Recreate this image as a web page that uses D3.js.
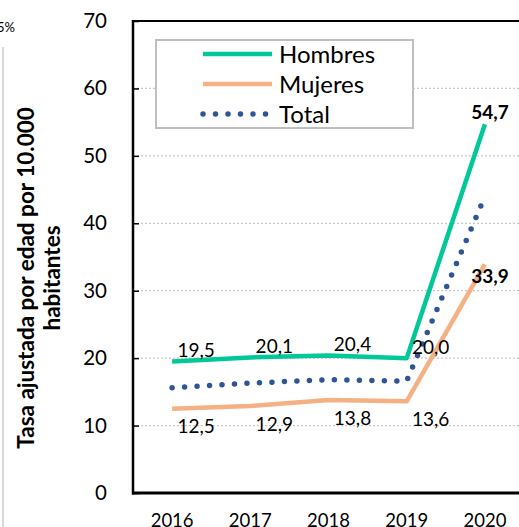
<!DOCTYPE html>
<html>
<head>
<meta charset="utf-8">
<script src="https://cdn.jsdelivr.net/npm/d3@7"></script>
<style>
  html, body { margin: 0; padding: 0; background: #fff; }
  svg { display: block; font-family: Lato, "Open Sans", sans-serif; }
</style>
</head>
<body>
<svg id="chart" width="519" height="527"></svg>
<script>
// ---- data ----
const years = ["2016", "2017", "2018", "2019", "2020"];
const hombres = [19.5, 20.1, 20.4, 20.0, 54.7];
const mujeres = [12.5, 12.9, 13.8, 13.6, 33.9];
const total = [15.6, 16.3, 16.8, 16.6, 44.0];
const hombresLabels = ["19,5", "20,1", "20,4", "20,0", "54,7"];
const mujeresLabels = ["12,5", "12,9", "13,8", "13,6", "33,9"];
const yTicks = [0, 10, 20, 30, 40, 50, 60, 70];
const seriesNames = ["Hombres", "Mujeres", "Total"];
const yTitle = ["Tasa ajustada por edad por 10.000", "habitantes"];

// ---- styles ----
const cGreen = "#00C896", cOrange = "#F4B183", cBlue = "#2F5597";

const svg = d3.select("#chart");
const pLeft = 133, pRight = 524, pTop = 21, pBottom = 493;

const x = d3.scaleBand().domain(years).range([pLeft, pRight]).padding(0);
const cx = d => x(d) + x.bandwidth() / 2;
const y = d3.scaleLinear().domain([0, 70]).range([pBottom, pTop]);

// stray fragment at the top left
svg.append("line").attr("x1", 3).attr("x2", 3).attr("y1", 47).attr("y2", 527)
  .attr("stroke", "#d9d9d9").attr("stroke-width", 2);
svg.append("text").attr("x", 15).attr("y", 32).attr("text-anchor", "end")
  .attr("font-size", 13).attr("fill", "#000").text("5%");

// gridlines
svg.append("g").selectAll("line").data(yTicks.filter(t => t > 0 && t < 70)).join("line")
  .attr("x1", pLeft).attr("x2", pRight)
  .attr("y1", d => y(d)).attr("y2", d => y(d))
  .attr("stroke", "#c8c8c8").attr("stroke-width", 1.2).attr("stroke-dasharray", "2 2");

// y axis (ticks inward)
const yAxis = d3.axisLeft(y).tickValues(yTicks).tickSize(-6).tickPadding(26).tickFormat(d3.format("d"));
const gy = svg.append("g").attr("transform", `translate(${pLeft},0)`).call(yAxis);
gy.select(".domain").remove();
gy.selectAll(".tick line").attr("stroke", "#000").attr("stroke-width", 1.5);
gy.selectAll(".tick text").attr("font-size", 20.5).attr("font-family", "Lato").attr("fill", "#000");

// x axis
const xAxis = d3.axisBottom(x).tickSize(0).tickPadding(0);
const gx = svg.append("g").attr("transform", `translate(0,${pBottom})`).call(xAxis);
gx.select(".domain").remove();
gx.selectAll(".tick text").attr("font-size", 18.5).attr("font-family", "Lato").attr("fill", "#000")
  .attr("dy", null).attr("y", 34);

// frame lines
svg.append("line").attr("x1", pLeft).attr("x2", pRight).attr("y1", pTop).attr("y2", pTop)
  .attr("stroke", "#000").attr("stroke-width", 2);
svg.append("line").attr("x1", pLeft).attr("x2", pLeft).attr("y1", pTop - 1).attr("y2", pBottom + 1.5)
  .attr("stroke", "#000").attr("stroke-width", 2.5);
svg.append("line").attr("x1", pLeft - 1).attr("x2", pRight).attr("y1", pBottom).attr("y2", pBottom)
  .attr("stroke", "#000").attr("stroke-width", 3);

// y title
const tg = svg.append("g").attr("transform", "translate(0,278) rotate(-90)");
tg.selectAll("text").data(yTitle).join("text")
  .attr("x", 0).attr("y", (d, i) => 34 + i * 26)
  .attr("text-anchor", "middle").attr("font-weight", "bold").attr("font-size", 22.5)
  .attr("fill", "#000").text(d => d);

// lines
const line = d3.line().x((d, i) => cx(years[i])).y(d => y(d));
svg.append("path").datum(mujeres).attr("d", line).attr("fill", "none")
  .attr("stroke", cOrange).attr("stroke-width", 4.5).attr("stroke-linejoin", "round");
svg.append("path").datum(hombres).attr("d", line).attr("fill", "none")
  .attr("stroke", cGreen).attr("stroke-width", 4.5).attr("stroke-linejoin", "round");
svg.append("path").datum(total).attr("d", line).attr("fill", "none")
  .attr("stroke", cBlue).attr("stroke-width", 5.5).attr("stroke-linecap", "round")
  .attr("stroke-dasharray", "0 12.5");

// labels
const lab = svg.append("g").attr("font-size", 19).attr("fill", "#000").attr("text-anchor", "middle");
lab.selectAll("text.h").data(hombres).join("text").attr("class", "h")
  .attr("x", (d, i) => cx(years[i]) + (i === 4 ? 5 : 24))
  .attr("y", (d, i) => y(d) - (i === 4 ? 12 : 11)).attr("dy", "0.35em")
  .attr("font-weight", (d, i) => i === 4 ? "bold" : null)
  .text((d, i) => hombresLabels[i]);
lab.selectAll("text.m").data(mujeres).join("text").attr("class", "m")
  .attr("x", (d, i) => cx(years[i]) + (i === 4 ? 5 : 24))
  .attr("y", (d, i) => y(d) + (i === 4 ? 12 : 18)).attr("dy", "0.35em")
  .attr("font-weight", (d, i) => i === 4 ? "bold" : null)
  .text((d, i) => mujeresLabels[i]);

// legend
const lg = svg.append("g");
lg.append("rect").attr("x", 156).attr("y", 40).attr("width", 257).attr("height", 88)
  .attr("fill", "#fff").attr("stroke", "#bfbfbf").attr("stroke-width", 2);
const legRows = lg.selectAll("g.row").data(seriesNames).join("g").attr("class", "row")
  .attr("transform", (d, i) => `translate(0,${54 + i * 30})`);
legRows.append("line").attr("x1", 203).attr("x2", (d, i) => i === 2 ? 268 : 272)
  .attr("y1", 0).attr("y2", 0)
  .attr("stroke", (d, i) => [cGreen, cOrange, cBlue][i])
  .attr("stroke-width", (d, i) => i === 2 ? 5.5 : 4.5)
  .attr("stroke-linecap", (d, i) => i === 2 ? "round" : "butt")
  .attr("stroke-dasharray", (d, i) => i === 2 ? "0 12.5" : null);
legRows.append("text").attr("x", 279).attr("y", 0).attr("dy", "0.36em")
  .attr("font-size", 24).attr("fill", "#000").text(d => d);
</script>
</body>
</html>
